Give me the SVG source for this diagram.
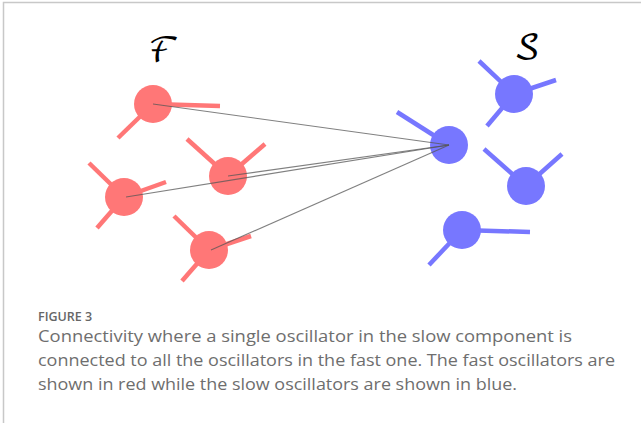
<svg xmlns="http://www.w3.org/2000/svg" width="641" height="423" viewBox="0 0 641 423">
<style>
.fast circle{fill:#ff7777}
.fast line{stroke:#ff7777;stroke-width:4.5;stroke-linecap:butt}
.slow circle{fill:#7777ff}
.slow line{stroke:#7777ff;stroke-width:4.5;stroke-linecap:butt}
.conn line{stroke:#555;stroke-width:1.1;stroke-opacity:0.75}
.lbl{font-family:"DejaVu Math TeX Gyre","DejaVu Serif",serif;font-size:34px;fill:#000}
.cap{font-family:"Open Sans","Lato",sans-serif;font-size:16px;fill:#6e6e6e}
.fig{font-family:"Open Sans","Lato",sans-serif;font-size:12.5px;font-weight:600;fill:#666}
</style>
<rect width="641" height="423" fill="#fff"/>
<path d="M3.5 423 V2.5 H641" fill="none" stroke="#c8c8c8" stroke-width="1.5"/>
<g id="label-F"><text class="lbl" x="164" y="62" text-anchor="middle">ℱ</text></g>
<g id="label-S"><text class="lbl" x="527" y="59" text-anchor="middle">𝒮</text></g>
<g id="fast-1" class="fast"><line x1="153" y1="104" x2="220" y2="106"/><line x1="153" y1="104" x2="118" y2="138"/><circle cx="153" cy="104" r="19"/></g>
<g id="fast-2" class="fast"><line x1="228" y1="176" x2="187" y2="139"/><line x1="228" y1="176" x2="265" y2="144"/><circle cx="228" cy="176" r="19"/></g>
<g id="fast-3" class="fast"><line x1="124" y1="197" x2="89" y2="163"/><line x1="124" y1="197" x2="166" y2="182"/><line x1="124" y1="197" x2="97" y2="228"/><circle cx="124" cy="197" r="19"/></g>
<g id="fast-4" class="fast"><line x1="209" y1="250" x2="174" y2="216"/><line x1="209" y1="250" x2="251" y2="236"/><line x1="209" y1="250" x2="182" y2="281"/><circle cx="209" cy="250" r="19"/></g>
<g id="slow-hub" class="slow"><line x1="449" y1="145" x2="397" y2="112"/><circle cx="449" cy="145" r="19"/></g>
<g id="slow-2" class="slow"><line x1="514" y1="94" x2="479" y2="61"/><line x1="514" y1="94" x2="556" y2="80"/><line x1="514" y1="94" x2="487" y2="126"/><circle cx="514" cy="94" r="19"/></g>
<g id="slow-3" class="slow"><line x1="526" y1="186" x2="484" y2="149"/><line x1="526" y1="186" x2="562" y2="154"/><circle cx="526" cy="186" r="19"/></g>
<g id="slow-4" class="slow"><line x1="462" y1="230" x2="530" y2="232"/><line x1="462" y1="230" x2="429" y2="265"/><circle cx="462" cy="230" r="19"/></g>
<g id="connectors" class="conn">
<line x1="449" y1="145" x2="153" y2="104"/>
<line x1="449" y1="145" x2="228" y2="176"/>
<line x1="449" y1="145" x2="126" y2="197"/>
<line x1="449" y1="145" x2="211" y2="250"/>
</g>
<g id="caption">
<text class="fig" x="38" y="321">FIGURE 3</text>
<text class="cap" x="38" y="342" textLength="534" lengthAdjust="spacingAndGlyphs">Connectivity where a single oscillator in the slow component is</text>
<text class="cap" x="38" y="366" textLength="577" lengthAdjust="spacingAndGlyphs">connected to all the oscillators in the fast one. The fast oscillators are</text>
<text class="cap" x="38" y="390" textLength="479" lengthAdjust="spacingAndGlyphs">shown in red while the slow oscillators are shown in blue.</text>
</g>
</svg>
